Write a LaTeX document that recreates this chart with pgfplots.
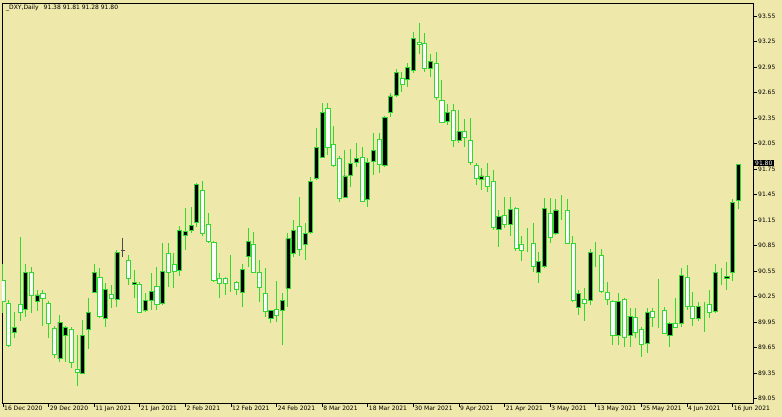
\documentclass[border=0pt]{standalone}
\usepackage{pgfplots}
\usepackage{pgfplotstable}
\pgfplotsset{compat=1.18}
\usepackage{fontspec}
\setmainfont{DejaVu Sans}
\newcommand\lbl{\fontsize{6}{7}\selectfont}

\definecolor{bg}{RGB}{238,232,170}
\definecolor{wick}{RGB}{50,215,50}

% daily candles: bar index, open, high, low, close
\pgfplotstableread{
i o h l c
0 90.44 90.64 90.06 90.19
1 90.17 90.21 89.66 89.68
2 89.83 90.07 89.76 89.89
3 90.16 90.95 89.97 90.06
4 90.10 90.64 90.01 90.53
5 90.53 90.60 90.06 90.27
6 90.20 90.33 90.08 90.27
7 90.29 90.33 89.91 90.23
8 90.17 90.20 89.77 89.94
9 89.88 89.91 89.53 89.57
10 89.52 90.03 89.48 89.95
11 89.79 89.91 89.48 89.89
12 89.86 89.89 89.41 89.48
13 89.40 89.80 89.20 89.36
14 89.35 89.97 89.34 89.79
15 89.86 90.24 89.64 90.06
16 90.30 90.64 90.29 90.54
17 90.48 90.59 90.00 90.02
18 90.00 90.41 89.89 90.34
19 90.28 90.39 90.12 90.23
20 90.22 90.80 90.13 90.77
22 90.68 90.74 90.39 90.47
23 90.40 90.56 90.24 90.42
24 90.40 90.42 90.06 90.07
25 90.09 90.29 90.07 90.21
26 90.21 90.53 90.09 90.31
27 90.37 90.60 90.09 90.16
28 90.17 90.88 90.15 90.55
29 90.76 90.88 90.36 90.54
30 90.63 90.76 90.35 90.55
31 90.56 91.08 90.49 91.03
32 90.97 91.29 90.80 91.02
33 91.03 91.31 91.00 91.09
34 91.12 91.59 91.07 91.57
35 91.50 91.61 90.97 90.99
36 91.10 91.23 90.88 90.90
37 90.89 90.90 90.42 90.44
38 90.47 90.53 90.24 90.41
39 90.47 90.48 90.27 90.41
40 90.43 90.74 90.30 90.43
41 90.42 90.44 90.27 90.33
42 90.30 90.64 90.13 90.57
43 90.72 91.06 90.60 90.90
44 90.87 91.01 90.53 90.54
45 90.53 90.68 90.19 90.36
46 90.29 90.59 90.01 90.08
47 90.00 90.10 89.94 90.09
48 90.10 90.44 89.95 90.03
49 90.09 90.30 89.68 90.21
50 90.35 91.00 90.13 90.93
51 90.76 91.15 90.72 91.03
52 91.08 91.42 90.73 90.80
53 90.86 91.12 90.68 90.99
54 91.00 91.66 90.99 91.60
55 91.64 92.23 91.62 92.00
56 91.89 92.53 91.88 92.42
57 92.46 92.53 91.91 92.00
58 92.04 92.26 91.77 91.79
59 91.88 91.91 91.36 91.41
60 91.42 91.97 91.41 91.67
61 91.68 91.99 91.54 91.82
62 91.83 92.06 91.77 91.88
63 91.89 92.01 91.36 91.37
64 91.39 91.88 91.30 91.83
65 91.84 92.17 91.68 91.97
66 92.10 92.17 91.71 91.80
67 91.79 92.37 91.77 92.36
68 92.42 92.64 92.36 92.61
69 92.62 92.93 92.60 92.89
70 92.82 92.89 92.66 92.74
71 92.80 93.00 92.72 92.95
72 92.91 93.36 92.88 93.29
73 93.24 93.47 93.11 93.22
74 93.23 93.35 92.89 92.93
75 92.93 93.10 92.83 93.02
76 92.99 93.13 92.56 92.59
77 92.56 92.80 92.29 92.30
78 92.31 92.52 92.27 92.42
79 92.44 92.52 92.01 92.09
80 92.09 92.44 92.06 92.19
81 92.19 92.34 92.01 92.12
82 92.09 92.35 91.80 91.83
83 91.79 91.82 91.56 91.64
84 91.63 91.76 91.50 91.67
85 91.66 91.82 91.48 91.55
86 91.61 91.74 91.03 91.07
87 91.04 91.27 90.83 91.19
88 91.20 91.42 91.06 91.10
89 91.10 91.42 90.97 91.28
90 91.29 91.30 90.79 90.82
91 90.87 90.97 90.67 90.79
92 90.87 91.06 90.77 90.87
93 90.88 91.12 90.54 90.61
94 90.53 90.77 90.41 90.66
95 90.61 91.41 90.59 91.29
96 91.23 91.41 90.88 90.95
97 90.99 91.40 90.97 91.27
98 91.27 91.44 91.15 91.27
99 91.26 91.40 90.87 90.88
100 90.88 90.96 90.19 90.21
101 90.12 90.33 90.03 90.29
102 90.22 90.35 89.96 90.17
103 90.21 90.81 90.15 90.77
104 90.74 90.89 90.60 90.74
105 90.74 90.81 90.29 90.31
106 90.30 90.42 90.15 90.22
107 90.20 90.21 89.68 89.80
108 89.80 90.29 89.68 90.19
109 90.22 90.24 89.66 89.77
110 89.80 90.12 89.66 90.02
111 90.01 90.12 89.76 89.83
112 89.86 89.89 89.54 89.69
113 89.70 90.12 89.59 90.06
114 90.08 90.12 89.89 90.01
115 90.04 90.46 89.88 90.04
116 90.09 90.13 89.81 89.82
117 89.80 89.95 89.66 89.94
118 89.93 90.24 89.88 89.89
119 89.93 90.59 89.89 90.50
120 90.48 90.62 90.09 90.13
121 90.14 90.30 89.91 89.99
122 90.00 90.19 89.97 90.14
123 90.14 90.19 89.83 90.14
124 90.16 90.33 90.00 90.06
125 90.08 90.63 90.06 90.53
126 90.49 90.59 90.39 90.49
127 90.47 90.66 90.33 90.49
128 90.53 91.40 90.44 91.36
129 91.38 91.81 91.28 91.80
}\cndl

\pgfplotsset{
  mt/.style={
    at={(2pt,14pt)}, anchor=south west, scale only axis,
    width=751pt, height=399.5pt,
    xmin=-0.175, xmax=131.58, ymin=89.0, ymax=93.697,
    enlargelimits=false,
  },
}

\begin{document}
\begin{tikzpicture}
\fill[bg] (0,0) rectangle (782pt,417pt);
\useasboundingbox (0,0) rectangle (782pt,417pt);

\begin{axis}[mt,
    axis line style={black, line width=0.8pt},
    tick style={black, line width=0.8pt},
    tick align=outside, major tick length=4pt,
    xtick pos=left, ytick pos=right, yticklabel pos=right,
    xtick={0,8,...,128},
    xticklabels={16 Dec 2020,29 Dec 2020,11 Jan 2021,21 Jan 2021,2 Feb 2021,12 Feb 2021,24 Feb 2021,8 Mar 2021,18 Mar 2021,30 Mar 2021,9 Apr 2021,21 Apr 2021,3 May 2021,13 May 2021,25 May 2021,4 Jun 2021,16 Jun 2021},
    ytick={89.05,89.35,89.65,89.95,90.25,90.55,90.85,91.15,91.45,91.75,92.05,92.35,92.65,92.95,93.25,93.55},
    xticklabel style={font=\lbl, anchor=west, inner sep=0pt, xshift=1pt, yshift=-1.5pt},
    yticklabel style={font=\lbl, anchor=west, inner sep=0pt, xshift=1pt,
      /pgf/number format/.cd, fixed, fixed zerofill, precision=2, assume math mode=true},
  ]
  % wicks
  \addplot[draw=none, mark=none, forget plot,
    error bars/.cd, y dir=both, y explicit, error mark=none,
    error bar style={draw=wick, line width=1pt}]
    table[x=i, y expr={(\thisrow{h}+\thisrow{l})/2}, y error expr={(\thisrow{h}-\thisrow{l})/2}] {\cndl};
  % the grey doji
  \addplot[draw=none, mark=none, forget plot,
    error bars/.cd, y dir=both, y explicit, error mark=none,
    error bar style={draw=gray!60!black, line width=1pt}]
    coordinates {(21,90.83) +- (0,0.11)};
  \addplot[draw=none, mark=none, forget plot,
    error bars/.cd, x dir=both, x fixed=0.36, error mark=none,
    error bar style={draw=gray!60!black, line width=1pt}]
    coordinates {(21,90.79)};
  \coordinate (last) at (axis cs:131.58,91.80);
\end{axis}

\begin{axis}[mt, hide axis, ybar stacked, bar width=0.72]
  % bodies: invisible base, then bull (black) and bear (hollow) heights
  \addplot[draw=none, fill=none] table[x=i, y expr={min(\thisrow{o},\thisrow{c})}] {\cndl};
  \addplot[draw=wick, fill=black, line width=0.8pt] table[x=i, y expr={max(\thisrow{c}-\thisrow{o},0)}] {\cndl};
  \addplot[draw=wick, fill=white, line width=0.8pt] table[x=i, y expr={max(\thisrow{o}-\thisrow{c},0)}] {\cndl};
\end{axis}

\node[anchor=west, font=\lbl, inner sep=0pt] at (6pt,409.5pt) {\_DXY,Daily\hspace{5pt}91.38 91.81 91.28 91.80};
\node[anchor=west, fill=black, text=white, font=\lbl, inner xsep=1.5pt, inner ysep=0.6pt] at ([xshift=0.5pt,yshift=1.5pt]last) {91.80};
\end{tikzpicture}
\end{document}
